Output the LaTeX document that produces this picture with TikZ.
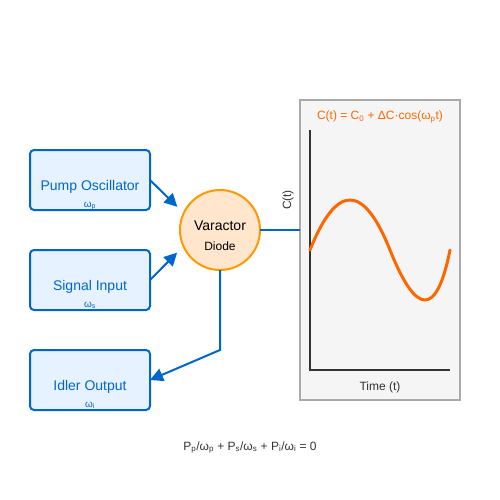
\documentclass[tikz,border=0pt]{standalone}
\usepackage{fontspec}
\setmainfont{Liberation Sans}
\usetikzlibrary{arrows.meta,positioning,calc}
\definecolor{boxline}{HTML}{0066CC}
\definecolor{boxfill}{HTML}{E6F2FF}
\definecolor{diodeline}{HTML}{FF9900}
\definecolor{diodefill}{HTML}{FFE6CC}
\definecolor{panelfill}{HTML}{F5F5F5}
\definecolor{panelline}{HTML}{AAAAAA}
\definecolor{wavecol}{HTML}{FF6600}
\definecolor{inkcol}{HTML}{333333}

\begin{document}
\begin{tikzpicture}[%
    x=1pt, y=-1pt,                        % work in pixels, top-down
    >={Triangle[length=13pt,width=13pt]}, % filled arrow heads
    node distance=40pt,                   % gap between the three boxes
    every node/.style={inner sep=0pt},
    ]
% -------------------------------------------------
% Styles
\tikzset{
  stage/.style={draw=boxline, fill=boxfill, line width=2pt, rounded corners=4pt,
    outer sep=0pt, minimum width=120pt, minimum height=60pt},
  stagetxt/.style={text=boxline, anchor=base, font=\fontsize{14pt}{16pt}\selectfont},
  freq/.style={text=boxline, anchor=base, font=\fontsize{10pt}{12pt}\selectfont},
  diode/.style={circle, draw=diodeline, fill=diodefill, line width=2pt,
    outer sep=0pt, minimum size=80pt},
  panel/.style={draw=panelline, fill=panelfill, line width=1.5pt,
    outer sep=0pt, minimum width=160pt, minimum height=300pt},
  lbl/.style={text=inkcol, anchor=base, font=\fontsize{12pt}{14pt}\selectfont},
  % connector styles
  link/.style={->, draw=boxline, line width=2pt},
  feed/.style={draw=boxline, line width=2pt},
  axis/.style={draw=inkcol, line width=2pt},
  wave/.style={draw=wavecol, line width=3pt, line cap=round}
}
\useasboundingbox (0,0) rectangle (500,500);
% -------------------------------------------------
% The three ports
\node [stage] (pump) at (90,180) {};
\node [stage, below=of pump] (signal) {};
\node [stage, below=of signal] (idler) {};
\node [stagetxt] (pumptxt) at ([yshift=-10pt]pump.center) {Pump Oscillator};
\node [stagetxt] (signaltxt) at ([yshift=-10pt]signal.center) {Signal Input};
\node [stagetxt] (idlertxt) at ([yshift=-10pt]idler.center) {Idler Output};
\node [freq] (pumpw) at ([yshift=-27pt]pump.center) {ω\textsubscript{p}};
\node [freq] (signalw) at ([yshift=-27pt]signal.center) {ω\textsubscript{s}};
\node [freq] (idlerw) at ([yshift=-27pt]idler.center) {ω\textsubscript{i}};

% The diode
\node [diode] (var) at (220,230) {};
\node [lbl, text=black, font=\fontsize{14pt}{16pt}\selectfont] (vartxt) at (var.center) {Varactor};
\node [lbl, text=black] (diodetxt) at ([yshift=-20pt]var.center) {Diode};

% The capacitance plot
\node [panel] (plot) at (380,250) {};
\node [lbl, text=wavecol] (plottitle) at ([yshift=-20pt]plot.north)
  {C(t) = C\textsubscript{0} + ΔC·cos(ω\textsubscript{p}t)};
\coordinate (origin) at (310,370);
\draw [axis] (310,130) -- (origin) -- (450,370);
\node [lbl] (tlabel) at (380,390) {Time (t)};
\node [lbl, rotate=90] (clabel) at (291,200) {C(t)};
\draw [wave] (310,250) .. controls (336.67,183.33) and (363.33,183.33) .. (390,250)
  .. controls (416.67,316.67) and (436.67,316.67) .. (450,250);

% -------------------------------------------------
% Connectors
\draw [link, shorten >=9pt] (pump.east) -- (var.155.7);
\draw [link, shorten >=9pt] (signal.east) -- (var.204.3);
\draw [link] (var.south) -- ++(0,80) -- (idler.east);
\draw [feed] (var.east) -- (var.east -| plot.west);

\node [lbl] (manleyrowe) at (250,450)
  {P\textsubscript{p}/ω\textsubscript{p} + P\textsubscript{s}/ω\textsubscript{s} + P\textsubscript{i}/ω\textsubscript{i} = 0};
% -------------------------------------------------
\end{tikzpicture}
\end{document}
